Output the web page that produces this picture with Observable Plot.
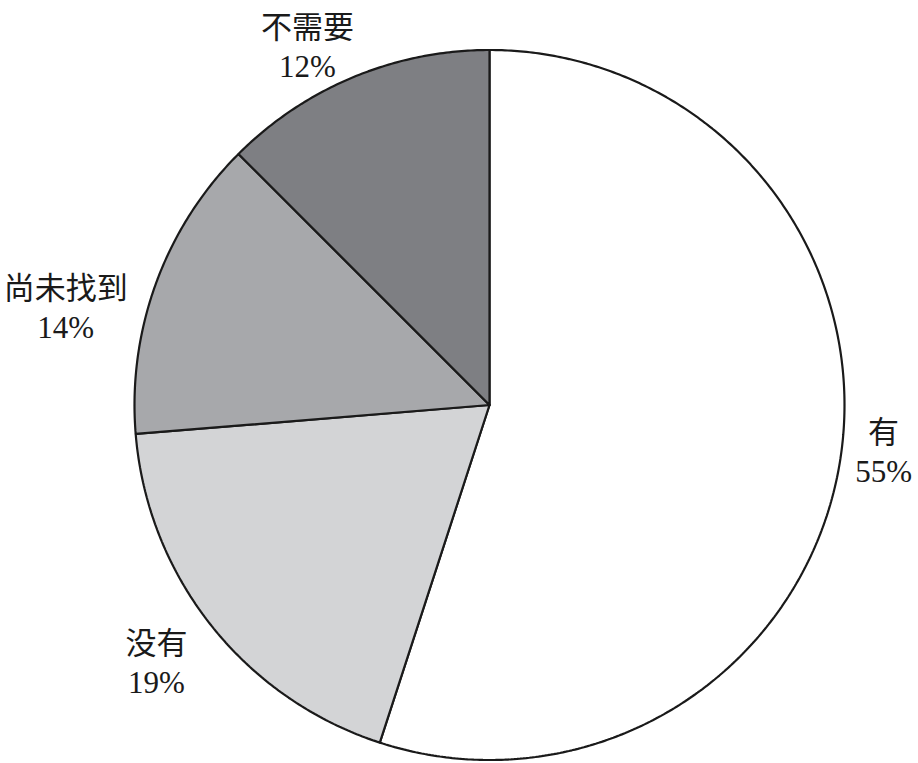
<!DOCTYPE html>
<html>
<head>
<meta charset="utf-8">
<script src="https://cdn.jsdelivr.net/npm/d3@7"></script>
<script src="https://cdn.jsdelivr.net/npm/@observablehq/plot@0.6"></script>
<style>
  html, body { margin: 0; padding: 0; background: #fff; }
</style>
</head>
<body>
<div id="chart"></div>
<script>
// Data (slices run clockwise from 12 o'clock)
const categories = ["有", "没有", "尚未找到", "不需要"];
const shares = [55.0, 18.7, 13.8, 12.5];
const pctLabels = ["55%", "19%", "14%", "12%"];
const sliceColors = ["#ffffff", "#d3d4d6", "#a7a8ab", "#7e7f83"];
// label anchors in the pie's unit-circle coordinates
const labelU = [1.110, -0.938, -1.194, -0.513];
const labelV = [-0.131, -0.725, 0.275, 1.010];

const total = d3.sum(shares);
let acc = 0;
const slices = categories.map((name, i) => {
  const a0 = acc / total * 2 * Math.PI;
  acc += shares[i];
  const a1 = acc / total * 2 * Math.PI;
  const n = Math.max(2, Math.ceil((a1 - a0) / (Math.PI / 360)));
  const pts = [{u: 0, v: 0}];
  for (let k = 0; k <= n; k++) {
    const a = a0 + (a1 - a0) * k / n;
    pts.push({u: Math.sin(a), v: Math.cos(a)});
  }
  pts.push({u: 0, v: 0});
  return {name, color: sliceColors[i], pts};
});

const labels = categories.map((name, i) => ({name, pct: pctLabels[i], u: labelU[i], v: labelV[i]}));

const cjkFont = "Noto Sans CJK SC, sans-serif";
const numFont = "Liberation Serif, Times New Roman, serif";

const plot = Plot.plot({
  width: 918,
  height: 763,
  margin: 0,
  x: {domain: [-1, 1], range: [134, 844], axis: null},
  y: {domain: [-1, 1], range: [759.5, 49.5], axis: null},
  style: {background: "#fff"},
  marks: [
    ...slices.map(s => Plot.line(s.pts, {
      x: "u", y: "v", fill: s.color, stroke: "#1a1a1a", strokeWidth: 2.2, strokeLinejoin: "miter"
    })),
    Plot.text(labels, {x: "u", y: "v", text: "name", dy: -18, fontSize: 31, fill: "#1a1a1a", fontFamily: cjkFont}),
    Plot.text(labels, {x: "u", y: "v", text: "pct", dy: 21, fontSize: 31, fill: "#1a1a1a", fontFamily: numFont})
  ]
});
document.getElementById("chart").appendChild(plot);
</script>
</body>
</html>
